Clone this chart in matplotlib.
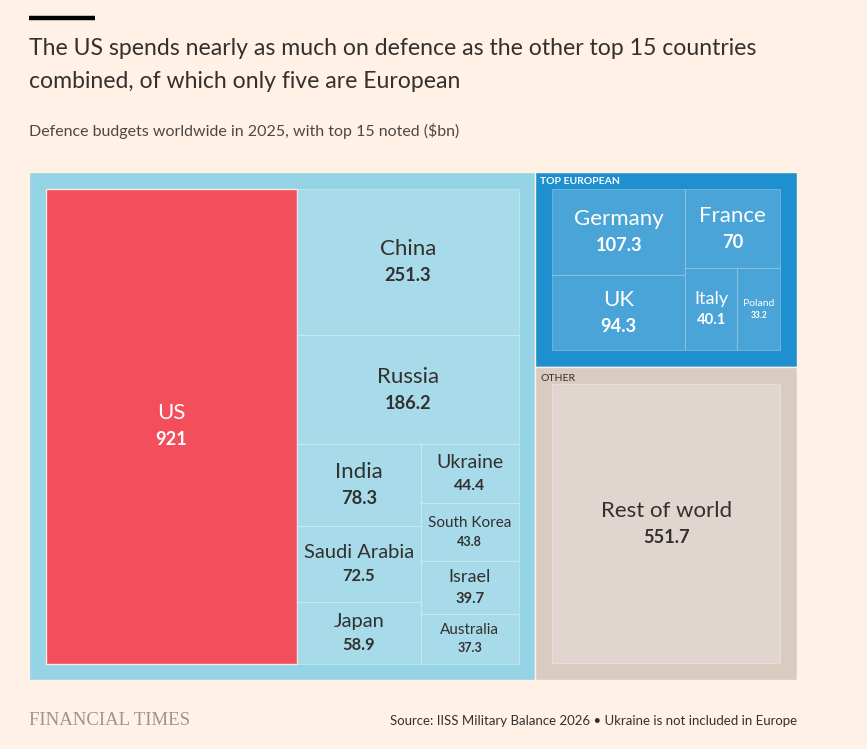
import matplotlib.pyplot as plt
from matplotlib.patches import Rectangle

# defence budgets 2025, $bn
countries = ["US", "China", "Russia", "India", "Saudi Arabia", "Japan",
             "Ukraine", "South Korea", "Israel", "Australia"]
budgets = [921, 251.3, 186.2, 78.3, 72.5, 58.9, 44.4, 43.8, 39.7, 37.3]
europe = ["Germany", "UK", "France", "Italy", "Poland"]
europe_budgets = [107.3, 94.3, 70, 40.1, 33.2]
rest_name = "Rest of world"
rest_budget = 551.7

val = dict(zip(countries, budgets))
val.update(zip(europe, europe_budgets))
val[rest_name] = rest_budget

plt.rcParams['font.family'] = ['Lato', 'DejaVu Sans']

BG = "#fff1e5"
DARK = "#33302e"

fig = plt.figure(figsize=(8.67, 7.49), dpi=100, facecolor=BG)
ax = fig.add_axes([0, 0, 1, 1])
ax.set_xlim(0, 867)
ax.set_ylim(749, 0)
ax.axis("off")


def split(rect, weights, horizontal):
    x, y, w, h = rect
    total = sum(weights)
    out = []
    pos = 0.0
    for wt in weights:
        f = wt / total
        if horizontal:
            out.append((x + pos * w, y, f * w, h))
        else:
            out.append((x, y + pos * h, w, f * h))
        pos += f
    return out


def pad(rect, p):
    x, y, w, h = rect
    return (x + p, y + p, w - 2 * p, h - 2 * p)


def box(rect, color, edge, lw=0.8):
    x, y, w, h = rect
    ax.add_patch(Rectangle((x, y), w, h, facecolor=color, edgecolor=edge, linewidth=lw))


name_size = {"US": 16, "China": 16, "Russia": 16, "India": 16, "Saudi Arabia": 14.5,
             "Japan": 14.5, "Ukraine": 14, "South Korea": 11, "Israel": 13,
             "Australia": 11, "Germany": 16, "France": 16, "UK": 16, "Italy": 13,
             "Poland": 7.5, rest_name: 16}


def label(rect, name, color):
    x, y, w, h = rect
    cx, cy = x + w / 2, y + h / 2
    fs = name_size[name]
    ax.text(cx, cy - 0.8 * fs, name, ha="center", va="center", fontsize=fs, color=color)
    ax.text(cx, cy + 0.85 * fs, f"{val[name]:g}", ha="center", va="center",
            fontsize=fs * 0.82, color=color, fontweight="bold")


# overall layout
area = (29, 172, 768, 508)
left_total = sum(budgets)
eu_total = sum(europe_budgets)
left_rect, right_rect = split(area, [left_total, eu_total + rest_budget], True)
eu_rect, other_rect = split(right_rect, [eu_total, rest_budget], False)

box(left_rect, "#95d3e6", BG, 1)
box(eu_rect, "#1e8fcf", BG, 1)
box(other_rect, "#d9cbc0", BG, 1)

# big group: US and the rest of top 15
inner = pad(left_rect, 16.5)
us_rect, rest_rect = split(inner, [val["US"], left_total - val["US"]], True)
col_a = ["India", "Saudi Arabia", "Japan"]
col_b = ["Ukraine", "South Korea", "Israel", "Australia"]
china_r, russia_r, bottom = split(rest_rect, [val["China"], val["Russia"],
                                              sum(val[n] for n in col_a + col_b)], False)
ra, rb = split(bottom, [sum(val[n] for n in col_a), sum(val[n] for n in col_b)], True)

cells = {"US": us_rect, "China": china_r, "Russia": russia_r}
cells.update(zip(col_a, split(ra, [val[n] for n in col_a], False)))
cells.update(zip(col_b, split(rb, [val[n] for n in col_b], False)))

for n, r in cells.items():
    if n == "US":
        box(r, "#f24e5b", "#fde8dc", 1)
        label(r, n, "white")
    else:
        box(r, "#a7dbea", (1, 1, 1, 0.3))
        label(r, n, DARK)

# top European
inner = pad(eu_rect, 17)
g_col = ["Germany", "UK"]
f_col = ["France", "Italy", "Poland"]
rg, rf = split(inner, [sum(val[n] for n in g_col), sum(val[n] for n in f_col)], True)
eu_cells = dict(zip(g_col, split(rg, [val[n] for n in g_col], False)))
fr, row = split(rf, [val["France"], val["Italy"] + val["Poland"]], False)
eu_cells["France"] = fr
eu_cells.update(zip(["Italy", "Poland"], split(row, [val["Italy"], val["Poland"]], True)))
for n, r in eu_cells.items():
    box(r, "#4ba4d7", (1, 1, 1, 0.25))
    label(r, n, "white")

# other
inner = pad(other_rect, 17)
box(inner, "#e0d5cf", (1, 1, 1, 0.3))
label(inner, rest_name, DARK)

ax.text(eu_rect[0] + 5, eu_rect[1] + 9, "TOP EUROPEAN", fontsize=7.5, color="white",
        fontweight="bold", va="center")
ax.text(other_rect[0] + 5, other_rect[1] + 11, "OTHER", fontsize=7.5, color=DARK, va="center")

# titles
ax.plot([29, 95], [18, 18], color="black", linewidth=3.2, solid_capstyle="butt")
ax.text(29, 55, "The US spends nearly as much on defence as the other top 15 countries",
        fontsize=16.6, color=DARK, va="baseline")
ax.text(29, 88, "combined, of which only five are European",
        fontsize=16.6, color=DARK, va="baseline")
ax.text(29, 136, "Defence budgets worldwide in 2025, with top 15 noted ($bn)",
        fontsize=11.5, color="#4d4845", va="baseline")

ax.text(29, 725, "FINANCIAL TIMES", fontsize=13.5, color="#9e958d", va="baseline",
        family="Liberation Serif")
ax.text(797, 725, "Source: IISS Military Balance 2026 \u2022 Ukraine is not included in Europe",
        fontsize=9.5, color=DARK, va="baseline", ha="right")

fig.savefig("out.png", dpi=100, facecolor=BG)
